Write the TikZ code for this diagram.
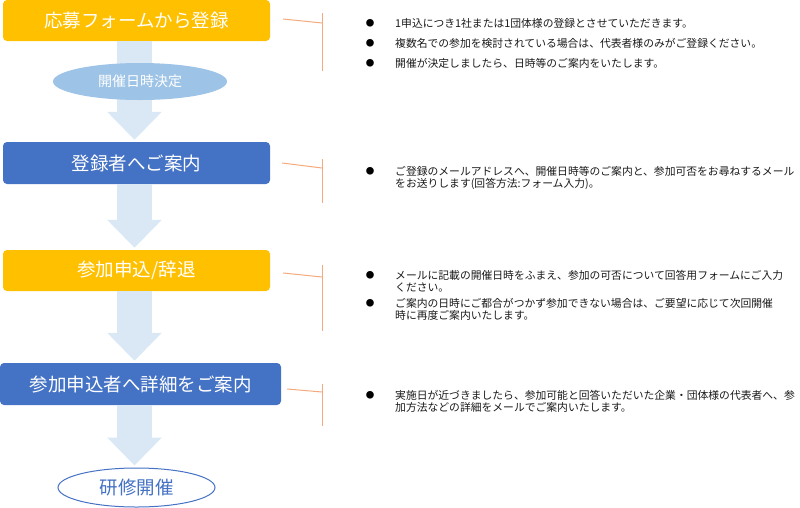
\documentclass[tikz,border=0pt]{standalone}
\usepackage{fontspec}
\newfontfamily\jp{Noto Sans CJK JP}
\usetikzlibrary{arrows.meta,shapes.geometric}

\definecolor{boxyellow}{RGB}{255,192,0}
\definecolor{boxblue}{RGB}{68,114,196}
\definecolor{ovalblue}{RGB}{157,195,230}
\definecolor{flowblue}{RGB}{218,232,246}
\definecolor{linkorange}{RGB}{244,170,125}
\definecolor{notegray}{RGB}{25,25,25}

\tikzset{
  stepbox/.style={rounded corners=4pt, minimum width=267pt, minimum height=41pt,
    inner sep=0pt, text=white, font=\jp\fontsize{18.5}{20}\selectfont},
  flow/.style={draw=flowblue, line width=35pt, shorten >=2pt,
    -{Triangle[width=53pt,length=28pt]}},
  bracket/.style={draw=linkorange, line width=1pt},
  note/.style={anchor=base west, inner sep=0pt, align=left, text=notegray,
    font=\jp\fontsize{10.8}{12}\selectfont},
  dot/.style={inner sep=0pt, font=\jp\fontsize{8.5}{8.5}\selectfont},
}

\begin{document}
\begin{tikzpicture}[x=1pt,y=-1pt]
    \useasboundingbox (0,0) rectangle (800,507);

    % steps
    \node[stepbox, fill=boxyellow] (entry) at (136.5,20.5) {応募フォームから登録};
    \node[stepbox, fill=boxblue, minimum height=42pt] (notice) at (136.5,163) {登録者へご案内};
    \node[stepbox, fill=boxyellow] (reply) at (136.5,270.5) {参加申込/辞退};
    \node[stepbox, fill=boxblue, minimum width=281pt, minimum height=42pt] (detail) at (140.5,384) {参加申込者へ詳細をご案内};
    \node[ellipse, draw=boxblue, line width=1pt, fill=white, minimum width=157pt, minimum height=39pt,
      inner sep=0pt, text=boxblue, font=\jp\fontsize{18.5}{20}\selectfont] (event) at (136.5,487.5) {研修開催};

    % big arrows
    \coordinate (axis) at (134.5,0);
    \draw[flow] (entry.south -| axis) -- (notice.north -| axis);
    \draw[flow] (notice.south -| axis) -- (reply.north -| axis);
    \draw[flow] (reply.south -| axis) -- (detail.north -| axis);
    \draw[flow] (detail.south -| axis) -- (event.north -| axis);

    \node[ellipse, fill=ovalblue, minimum width=174pt, minimum height=37pt, inner sep=0pt,
      text=white, font=\jp\fontsize{14}{16}\selectfont] (decide) at (140,81.5) {開催日時決定};

    % brackets
    \coordinate (k1) at (322,23);
    \coordinate (k1a) at (322,13);
    \coordinate (k1b) at (322,71);
    \draw[bracket] ([xshift=13pt,yshift=1.5pt]entry.east) -- (k1);
    \draw[bracket] (k1a) -- (k1b);

    \coordinate (k2) at (322,168);
    \coordinate (k2a) at (322,159);
    \coordinate (k2b) at (322,203);
    \draw[bracket] ([xshift=12pt]notice.east) -- (k2);
    \draw[bracket] (k2a) -- (k2b);

    \coordinate (k3) at (322,277);
    \coordinate (k3a) at (322,265);
    \coordinate (k3b) at (322,331);
    \draw[bracket] ([xshift=13pt,yshift=-2.5pt]reply.east) -- (k3);
    \draw[bracket] (k3a) -- (k3b);

    \coordinate (k4) at (322,392);
    \coordinate (k4a) at (322,384);
    \coordinate (k4b) at (322,426);
    \draw[bracket] ([xshift=6pt,yshift=-5pt]detail.east) -- (k4);
    \draw[bracket] (k4a) -- (k4b);

    % notes (base of a two-line note is its last line)
    \node[dot] (d1) at (370,23) {●};
    \node[note] (n1) at (395,27) {1申込につき1社または1団体様の登録とさせていただきます。};
    \node[dot] (d2) at (370,43) {●};
    \node[note] (n2) at (395,47) {複数名での参加を検討されている場合は、代表者様のみがご登録ください。};
    \node[dot] (d3) at (370,63) {●};
    \node[note] (n3) at (395,67) {開催が決定しましたら、日時等のご案内をいたします。};

    \node[dot] (d4) at (370,171) {●};
    \node[note] (n4) at (395,187) {ご登録のメールアドレスへ、開催日時等のご案内と、参加可否をお尋ねするメール\\をお送りします(回答方法:フォーム入力)。};

    \node[dot] (d5) at (370,275) {●};
    \node[note] (n5) at (395,291) {メールに記載の開催日時をふまえ、参加の可否について回答用フォームにご入力\\ください。};
    \node[dot] (d6) at (370,303) {●};
    \node[note] (n6) at (395,319) {ご案内の日時にご都合がつかず参加できない場合は、ご要望に応じて次回開催\\時に再度ご案内いたします。};

    \node[dot] (d7) at (370,395) {●};
    \node[note] (n7) at (395,411) {実施日が近づきましたら、参加可能と回答いただいた企業・団体様の代表者へ、参\\加方法などの詳細をメールでご案内いたします。};
\end{tikzpicture}
\end{document}
